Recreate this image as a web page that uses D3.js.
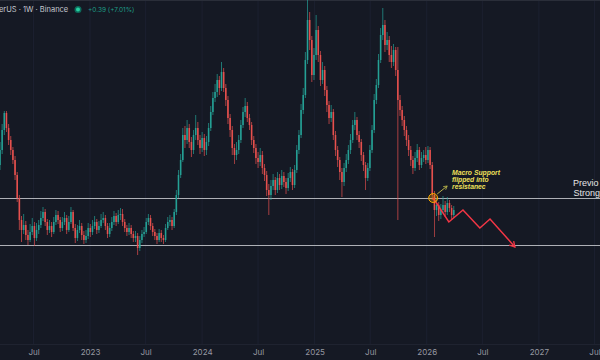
<!DOCTYPE html>
<html><head><meta charset="utf-8">
<script src="https://cdn.jsdelivr.net/npm/d3@7"></script>
<style>
html,body{margin:0;padding:0;background:#151924;overflow:hidden}
svg{display:block}
</style></head>
<body>
<svg id="c" width="600" height="360"></svg>
<script>
// ---- data (weekly candles, arbitrary price units) ----
const firstWeek = "2022-03-14";
const firstOpen = 19.5;
const closes = [
21.0,23.0,24.7,23.2,22.0,21.0,20.0,18.5,16.2,14.0,
13.0,13.5,12.5,12.0,12.8,13.4,12.2,13.0,13.5,14.2,
14.8,13.8,13.0,13.4,12.8,13.8,14.5,14.0,13.2,13.8,
14.2,13.0,13.8,14.8,13.2,12.2,13.0,13.4,12.5,12.0,
12.4,13.2,12.8,13.4,13.8,13.0,13.4,14.0,14.2,13.4,
12.6,13.2,13.8,14.4,13.8,14.5,14.6,13.8,13.2,12.8,
13.2,12.6,12.2,12.4,11.2,12.0,12.6,12.8,13.8,14.2,
13.4,12.8,12.4,12.0,12.7,12.2,12.0,13.2,13.8,14.0,
13.4,14.8,16.5,18.5,20.0,22.5,22.0,23.2,21.8,21.0,
22.5,23.2,22.0,21.2,22.2,21.0,21.8,23.2,24.8,26.2,
26.8,28.0,27.2,28.8,27.2,26.0,24.2,23.0,21.2,20.5,
21.0,22.0,23.5,24.8,25.4,24.2,23.5,22.0,21.2,20.2,
19.8,20.5,19.2,18.5,17.0,16.5,17.4,18.0,17.0,18.2,
17.5,18.4,17.8,17.2,18.2,18.8,17.5,19.0,21.0,22.5,
25.0,26.5,30.0,34.0,32.0,28.5,30.5,33.0,30.5,28.0,
29.0,27.0,25.5,24.2,24.8,22.5,21.0,20.0,18.8,17.8,
19.2,20.0,21.0,22.0,23.5,24.0,22.5,21.8,20.5,19.5,
18.2,19.2,21.0,23.0,26.0,27.5,30.0,32.5,33.5,31.5,
32.0,30.5,29.8,31.0,29.0,26.0,25.0,24.0,23.0,22.0,
21.0,20.0,19.2,20.2,21.0,19.5,20.2,20.5,20.0,21.0,
19.5,16.5,15.0,15.5,14.5,15.0,15.5,14.8,15.7,15.2,
14.5,15.0];
const highs = [
21.8,23.6,24.9,24.9,23.6,22.4,21.3,20.4,18.8,16.5,
14.4,14.6,13.9,13.0,13.6,14.2,13.8,13.7,14.0,14.9,
15.3,15.1,14.1,14.0,13.8,14.3,15.0,14.9,14.3,14.3,
14.8,14.5,14.4,15.3,15.0,13.6,13.5,14.0,13.7,12.9,
13.0,13.7,13.6,14.0,14.4,14.1,13.9,14.6,14.8,14.5,
13.7,13.7,14.3,14.9,14.7,15.0,15.2,15.1,14.1,13.5,
13.7,13.5,12.9,12.9,12.7,12.4,13.0,13.3,14.2,14.6,
14.5,13.7,13.1,12.7,13.1,13.0,12.5,13.6,14.3,14.5,
14.3,15.1,17.0,19.0,20.6,23.2,23.4,24.0,23.6,22.3,
23.0,24.5,23.8,22.5,22.8,22.6,22.4,23.7,25.4,26.8,
27.6,28.6,28.4,29.8,29.2,27.6,26.4,24.6,23.4,21.6,
21.8,22.5,24.0,25.3,26.2,25.8,24.6,23.8,22.4,21.6,
20.8,21.2,20.9,19.6,18.9,17.6,18.0,18.6,18.3,18.8,
18.6,19.0,18.8,18.2,18.7,19.3,19.1,19.5,21.5,23.0,
25.6,27.2,30.8,36.0,34.8,32.4,31.2,34.5,33.4,30.9,
29.8,29.4,27.4,25.9,25.5,25.1,22.9,21.4,20.3,19.2,
19.7,20.6,21.5,22.6,24.0,24.8,24.3,22.9,22.1,20.8,
19.8,19.7,21.5,23.5,26.6,28.1,30.6,33.2,35.2,34.0,
32.8,32.4,31.4,31.6,31.3,31.3,26.5,25.4,24.4,23.4,
22.5,21.4,20.4,20.8,21.6,21.3,20.8,21.0,21.3,21.4,
21.3,19.8,16.9,16.2,15.8,15.6,16.4,15.9,16.3,16.0,
15.5,15.4];
const lows = [
19.0,20.6,22.5,22.8,21.5,20.5,19.6,18.0,15.8,13.0,
11.8,12.6,12.0,11.5,11.8,12.5,11.4,11.9,12.6,13.2,
13.9,13.4,12.5,12.7,12.3,12.6,13.5,13.6,12.8,12.9,
13.5,12.6,12.8,13.6,12.9,11.7,11.9,12.7,12.0,11.6,
11.7,12.1,12.3,12.5,13.1,12.6,12.7,13.2,13.7,13.0,
12.2,12.3,12.9,13.5,13.4,13.6,14.0,13.4,12.8,12.4,
12.5,12.2,11.8,11.8,10.5,10.9,11.7,12.3,12.6,13.5,
13.0,12.4,12.0,11.6,11.8,11.8,11.6,11.8,13.0,13.4,
13.0,13.2,14.5,16.2,18.2,19.8,21.2,21.6,21.2,20.3,
20.6,22.0,21.5,20.6,20.8,20.4,20.5,21.4,22.9,24.5,
25.8,26.3,26.5,26.9,26.8,25.4,23.6,22.3,20.5,19.6,
20.0,20.6,21.7,23.2,24.3,23.8,23.0,21.5,20.7,19.6,
19.2,19.4,18.6,17.9,16.4,14.5,16.0,17.0,16.5,16.7,
17.0,17.1,17.3,16.6,16.9,17.8,17.0,17.2,18.7,20.6,
22.2,24.6,26.2,29.6,31.0,27.8,28.0,30.0,29.8,27.4,
27.6,26.4,24.8,23.6,23.8,22.0,20.4,19.3,18.0,16.3,
17.4,18.8,19.6,20.6,21.7,23.0,22.0,21.2,19.9,18.9,
17.0,17.9,18.9,20.7,22.7,25.6,27.2,29.7,32.0,30.8,
31.0,29.8,29.2,29.4,28.4,14.0,24.4,23.4,22.4,21.4,
20.4,19.4,18.6,18.9,19.8,19.0,19.2,19.8,19.6,19.7,
19.1,16.0,12.3,14.4,13.9,14.1,14.7,14.3,14.5,14.8,
14.0,14.2];
const supportLevels = [16.2, 11.5];
const projectionDates = ["2026-01-22","2026-03-14","2026-04-29","2026-06-23","2026-07-26","2026-10-15"];
const projectionPrices = [16.2, 13.8, 15.0, 13.2, 14.1, 11.3];
const flipDate = "2026-01-22";
const flipPrice = 16.2;
const tickDates = ["2022-07-01","2023-01-01","2023-07-01","2024-01-01","2024-07-01","2025-01-01","2025-07-01","2026-01-01","2026-07-01","2027-01-01","2027-07-01"];
const tickLabels = ["Jul","2023","Jul","2024","Jul","2025","Jul","2026","Jul","2027","Jul"];

// ---- build ----
const W = 600, H = 360;
const svg = d3.select("#c");
const parse = d3.utcParse("%Y-%m-%d");
const start = parse(firstWeek);
const candles = closes.map((c, i) => ({
  date: d3.utcDay.offset(start, 7 * i),
  open: i === 0 ? firstOpen : closes[i - 1],
  close: c, high: highs[i], low: lows[i]
}));

const x = d3.scaleUtc().domain([parse("2022-03-14"), parse("2027-07-19")]).range([0, W]);
const y = d3.scaleLinear().domain([0, 36]).range([H, 0]);

svg.append("rect").attr("width", W).attr("height", H).attr("fill", "#151924");

// faint vertical grid
svg.append("g").selectAll("line").data(tickDates).join("line")
  .attr("x1", d => x(parse(d))).attr("x2", d => x(parse(d)))
  .attr("y1", 0).attr("y2", 344)
  .attr("stroke", "#1c2030").attr("stroke-width", 1);

// top border
svg.append("rect").attr("x", 0).attr("y", 0).attr("width", W).attr("height", 1).attr("fill", "#2a2e39");
// axis separator
svg.append("line").attr("x1", 0).attr("x2", W).attr("y1", 344.5).attr("y2", 344.5)
  .attr("stroke", "#1f2330");

// support lines
svg.append("g").selectAll("line").data(supportLevels).join("line")
  .attr("x1", 0).attr("x2", W)
  .attr("y1", d => Math.round(y(d)) + 0.5).attr("y2", d => Math.round(y(d)) + 0.5)
  .attr("stroke", "#c9cbd0").attr("stroke-width", 1).attr("opacity", 0.85);

// candles
const up = "#26a69a", dn = "#ef5350";
const g = svg.append("g");
g.selectAll("line.w").data(candles).join("line").attr("class", "w")
  .attr("x1", d => x(d.date)).attr("x2", d => x(d.date))
  .attr("y1", d => y(d.high)).attr("y2", d => y(d.low))
  .attr("stroke", d => d.close >= d.open ? up : dn).attr("stroke-width", 0.8).attr("opacity", 0.85);
g.selectAll("rect.b").data(candles).join("rect").attr("class", "b")
  .attr("x", d => x(d.date) - 0.8).attr("width", 1.6)
  .attr("y", d => y(Math.max(d.open, d.close)))
  .attr("height", d => Math.max(0.8, Math.abs(y(d.open) - y(d.close))))
  .attr("fill", d => d.close >= d.open ? up : dn).attr("opacity", 0.9);

// projection path
const defs = svg.append("defs");
defs.append("marker").attr("id", "ar").attr("viewBox", "0 0 10 10").attr("refX", 8).attr("refY", 5)
  .attr("markerWidth", 5).attr("markerHeight", 5).attr("orient", "auto")
  .append("path").attr("d", "M1,1 L8,5 L1,9").attr("fill", "none").attr("stroke", "#f23645").attr("stroke-width", 1.8);
defs.append("marker").attr("id", "ag").attr("viewBox", "0 0 10 10").attr("refX", 8).attr("refY", 5)
  .attr("markerWidth", 5).attr("markerHeight", 5).attr("orient", "auto")
  .append("path").attr("d", "M1,1 L8,5 L1,9").attr("fill", "none").attr("stroke", "#b5b04a").attr("stroke-width", 1.6);

const proj = projectionDates.map((d, i) => [x(parse(d)), y(projectionPrices[i])]);
svg.append("path").attr("d", d3.line()(proj)).attr("fill", "none")
  .attr("stroke", "#f23645").attr("stroke-width", 1.5).attr("stroke-linejoin", "miter")
  .attr("marker-end", "url(#ar)");

// flip circle
const fx = x(parse(flipDate)), fy = y(flipPrice);
svg.append("circle").attr("cx", fx).attr("cy", fy).attr("r", 4.5)
  .attr("fill", "#f7a600").attr("fill-opacity", 0.3).attr("stroke", "#f7a600").attr("stroke-width", 1);
svg.append("line").attr("x1", fx + 4).attr("y1", fy - 4).attr("x2", fx + 14).attr("y2", fy - 12)
  .attr("stroke", "#b5b04a").attr("stroke-width", 1).attr("marker-end", "url(#ag)");

// annotation text
const ann = svg.append("text").attr("x", 452).attr("y", 175)
  .attr("font-family", "Liberation Sans, Arial, sans-serif").attr("font-size", 6.8)
  .attr("font-style", "italic").attr("font-weight", "bold").attr("fill", "#efe05a");
["Macro Support", "flipped into", "resistanec"].forEach((t, i) =>
  ann.append("tspan").attr("x", 452).attr("dy", i === 0 ? 0 : 7).text(t));

// right label (as visible at the edge in the reference)
const rl = svg.append("g").attr("font-family", "Liberation Sans, Arial, sans-serif")
  .attr("font-size", 9).attr("fill", "#e6e6e6");
rl.append("text").attr("x", 573).attr("y", 186).text("Previo");
rl.append("text").attr("x", 573.5).attr("y", 196).text("Strong");

// x axis
const ax = svg.append("g").attr("transform", "translate(0,345)")
  .call(d3.axisBottom(x).tickValues(tickDates.map(parse)).tickSize(0)
    .tickFormat((d, i) => tickLabels[i]));
ax.select(".domain").remove();
ax.selectAll("text").attr("fill", "#9598a1").attr("font-size", 8)
  .attr("font-family", "Inter, DejaVu Sans, sans-serif").attr("dy", "0.9em");

// header
const hd = svg.append("g").attr("font-family", "Inter, DejaVu Sans, sans-serif").attr("font-size", 7.5);
hd.append("text").attr("x", -1).attr("y", 12).attr("fill", "#c4c7cf").text("erUS · 1W · Binance");
hd.append("circle").attr("cx", 78).attr("cy", 9.5).attr("r", 3.5).attr("fill", "#0d6b5c");
hd.append("circle").attr("cx", 78).attr("cy", 9.5).attr("r", 2).attr("fill", "#26d0a0");
hd.append("text").attr("x", 88).attr("y", 12).attr("fill", "#1e9e86").attr("font-size", 6.5).text("+0.39 (+7.01%)");
</script>
</body></html>
